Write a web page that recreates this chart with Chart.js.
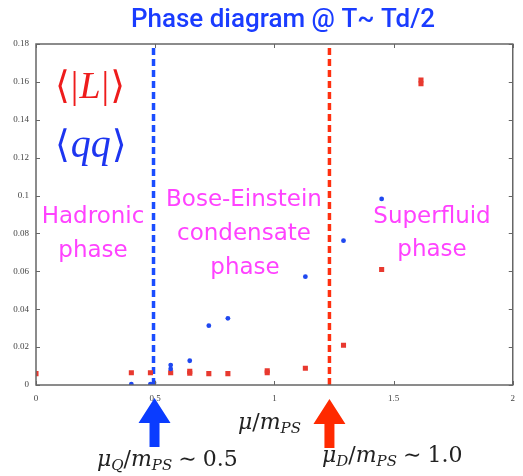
<!DOCTYPE html>
<html lang="en">
<head>
    <meta charset="UTF-8">
    <title>Phase diagram @ T~ Td/2</title>
    <style>
        html, body {
            margin: 0;
            padding: 0;
            background: #ffffff;
        }
        #wrap {
            width: 523px;
            height: 476px;
            position: relative;
        }
    </style>
</head>
<body>
    <div id="wrap">
        <canvas id="phaseChart" width="523" height="476"></canvas>
    </div>

    <script src="https://cdn.jsdelivr.net/npm/chart.js"></script>
    <script>
        // Polyakov loop <|L|> versus mu/m_PS
        var muL = [0, 0.40, 0.48, 0.565, 0.645, 0.645, 0.725, 0.805, 0.97, 0.97, 1.13, 1.29, 1.45, 1.615, 1.615];
        var polyakovL = [0.006, 0.0065, 0.0065, 0.0065, 0.0062, 0.0072, 0.006, 0.006, 0.0065, 0.0075, 0.0088, 0.021, 0.061, 0.159, 0.161];

        // diquark condensate <qq> versus mu/m_PS
        var muQQ = [0.40, 0.48, 0.495, 0.565, 0.565, 0.645, 0.725, 0.805, 1.13, 1.29, 1.45];
        var diquarkQQ = [0.0004, 0.0005, 0.0012, 0.0085, 0.0105, 0.0128, 0.0313, 0.0352, 0.0572, 0.0762, 0.0982];

        // transition points
        var muQuark = 0.493;
        var muDiquark = 1.231;

        var xTicks = [0, 0.5, 1, 1.5, 2];
        var yTicks = [0, 0.02, 0.04, 0.06, 0.08, 0.1, 0.12, 0.14, 0.16, 0.18];

        var RED = '#e8392f';
        var BLUE = '#1f48f0';
        var MAGENTA = '#ff42ff';

        function toPoints(xs, ys) {
            return xs.map(function (x, i) { return { x: x, y: ys[i] }; });
        }

        // draws a row of text pieces (for the math labels), left aligned at x
        function drawRuns(ctx, x, y, runs, color) {
            ctx.fillStyle = color;
            ctx.textBaseline = 'alphabetic';
            ctx.textAlign = 'left';
            runs.forEach(function (r) {
                ctx.font = r.f;
                ctx.fillText(r.t, x, y + (r.dy || 0));
                x += ctx.measureText(r.t).width + (r.gap || 0);
            });
        }

        function drawArrow(ctx, cx, top, color) {
            ctx.fillStyle = color;
            ctx.beginPath();
            ctx.moveTo(cx, top);
            ctx.lineTo(cx + 16, top + 25);
            ctx.lineTo(cx + 5, top + 25);
            ctx.lineTo(cx + 5, top + 49);
            ctx.lineTo(cx - 5, top + 49);
            ctx.lineTo(cx - 5, top + 25);
            ctx.lineTo(cx - 16, top + 25);
            ctx.closePath();
            ctx.fill();
        }

        // frame with inward ticks, plus all the labels around the plot
        var decorations = {
            id: 'decorations',
            afterDraw: function (chart) {
                var ctx = chart.ctx;
                var xs = chart.scales.x;
                var ys = chart.scales.y;
                var a = chart.chartArea;
                ctx.save();

                ctx.strokeStyle = '#666';
                ctx.lineWidth = 1.5;
                ctx.strokeRect(a.left, a.top, a.right - a.left, a.bottom - a.top);
                ctx.lineWidth = 1;
                ctx.beginPath();
                xTicks.forEach(function (v) {
                    var px = Math.round(xs.getPixelForValue(v)) + 0.5;
                    ctx.moveTo(px, a.bottom); ctx.lineTo(px, a.bottom - 4);
                    ctx.moveTo(px, a.top); ctx.lineTo(px, a.top + 4);
                });
                yTicks.forEach(function (v) {
                    var py = Math.round(ys.getPixelForValue(v)) + 0.5;
                    ctx.moveTo(a.left, py); ctx.lineTo(a.left + 4, py);
                    ctx.moveTo(a.right, py); ctx.lineTo(a.right - 4, py);
                });
                ctx.stroke();

                // title
                ctx.fillStyle = '#1a3cff';
                ctx.font = '500 26px Roboto, "Liberation Sans", sans-serif';
                ctx.textAlign = 'center';
                ctx.textBaseline = 'alphabetic';
                ctx.fillText('Phase diagram @ T~ Td/2', 283, 27);

                // phase regions
                ctx.fillStyle = MAGENTA;
                ctx.font = '23px "DejaVu Sans", sans-serif';
                ctx.fillText('Hadronic', 93, 223);
                ctx.fillText('phase', 93, 257);
                ctx.fillText('Bose-Einstein', 244, 206);
                ctx.fillText('condensate', 244, 240);
                ctx.fillText('phase', 245, 274);
                ctx.fillText('Superfluid', 432, 223);
                ctx.fillText('phase', 432, 256);

                // legend symbols
                var serif = '"Liberation Serif", "DejaVu Serif", serif';
                var bracket = '38px "DejaVu Serif", serif';
                drawRuns(ctx, 55, 98, [
                    { t: '\u27E8', f: bracket, gap: 1 },
                    { t: '|', f: '38px ' + serif, gap: 1 },
                    { t: 'L', f: 'italic 38px ' + serif, gap: 1 },
                    { t: '|', f: '38px ' + serif, gap: 1 },
                    { t: '\u27E9', f: bracket }
                ], '#ee1c1c');
                drawRuns(ctx, 55, 157, [
                    { t: '\u27E8', f: bracket, gap: 1 },
                    { t: 'qq', f: 'italic 40px ' + serif, gap: 1 },
                    { t: '\u27E9', f: bracket }
                ], '#1d35f0');

                // arrows at the transition points
                var bx = xs.getPixelForValue(muQuark);
                var rx = xs.getPixelForValue(muDiquark);
                drawArrow(ctx, bx + 1, 398, '#0a3cff');
                drawArrow(ctx, rx, 399, '#ff2a00');

                // axis and arrow labels
                var mserif = '"DejaVu Serif", serif';
                var it = 'italic 22px ' + mserif;
                var sub = 'italic 15px ' + mserif;
                var rm = '22px ' + mserif;
                drawRuns(ctx, 238, 429, [
                    { t: '\u03BC', f: it },
                    { t: '/', f: rm },
                    { t: 'm', f: it },
                    { t: 'PS', f: sub, dy: 4 }
                ], '#222');
                drawRuns(ctx, 97, 466, [
                    { t: '\u03BC', f: it },
                    { t: 'Q', f: sub, dy: 4 },
                    { t: '/', f: rm },
                    { t: 'm', f: it },
                    { t: 'PS', f: sub, dy: 4, gap: 6 },
                    { t: '\u223C', f: rm, gap: 6 },
                    { t: '0.5', f: rm }
                ], '#222');
                drawRuns(ctx, 322, 462, [
                    { t: '\u03BC', f: it },
                    { t: 'D', f: sub, dy: 4 },
                    { t: '/', f: rm },
                    { t: 'm', f: it },
                    { t: 'PS', f: sub, dy: 4, gap: 6 },
                    { t: '\u223C', f: rm, gap: 6 },
                    { t: '1.0', f: rm }
                ], '#222');

                ctx.restore();
            }
        };

        var tickFont = { family: '"Liberation Serif", serif', size: 9 };

        var ctx = document.getElementById('phaseChart').getContext('2d');
        var chart = new Chart(ctx, {
            type: 'scatter',
            data: {
                datasets: [
                    {
                        label: '<qq>',
                        data: toPoints(muQQ, diquarkQQ),
                        pointStyle: 'circle',
                        pointRadius: 2.4,
                        backgroundColor: BLUE,
                        borderWidth: 0
                    },
                    {
                        label: '<|L|>',
                        data: toPoints(muL, polyakovL),
                        pointStyle: 'rect',
                        pointRadius: 3.6,
                        backgroundColor: RED,
                        borderWidth: 0
                    },
                    {
                        type: 'line',
                        label: 'mu_Q',
                        data: [{ x: muQuark, y: 0 }, { x: muQuark, y: 0.18 }],
                        borderColor: '#1a4dff',
                        borderWidth: 3.5,
                        borderDash: [7, 4],
                        pointRadius: 0
                    },
                    {
                        type: 'line',
                        label: 'mu_D',
                        data: [{ x: muDiquark, y: 0 }, { x: muDiquark, y: 0.18 }],
                        borderColor: '#ff3010',
                        borderWidth: 3.5,
                        borderDash: [7, 4],
                        pointRadius: 0
                    }
                ]
            },
            options: {
                responsive: false,
                animation: false,
                layout: { padding: { left: 0, top: 44, right: 4, bottom: 71 } },
                plugins: {
                    legend: { display: false },
                    tooltip: { enabled: false }
                },
                scales: {
                    x: {
                        type: 'linear',
                        min: 0,
                        max: 2,
                        afterFit: function (s) { s.height = 20; },
                        afterBuildTicks: function (s) { s.ticks = xTicks.map(function (v) { return { value: v }; }); },
                        grid: { display: false, drawTicks: false },
                        border: { display: false },
                        ticks: {
                            padding: 8,
                            maxRotation: 0,
                            autoSkip: false,
                            color: '#444',
                            font: tickFont,
                            callback: function (v) { return String(v); }
                        }
                    },
                    y: {
                        type: 'linear',
                        min: 0,
                        max: 0.18,
                        afterFit: function (s) { s.width = 36; },
                        afterBuildTicks: function (s) { s.ticks = yTicks.map(function (v) { return { value: v }; }); },
                        grid: { display: false, drawTicks: false },
                        border: { display: false },
                        ticks: {
                            padding: 7,
                            autoSkip: false,
                            color: '#444',
                            font: tickFont,
                            callback: function (v) { return String(Number(v.toFixed(2))); }
                        }
                    }
                }
            },
            plugins: [decorations]
        });
    </script>
</body>
</html>
